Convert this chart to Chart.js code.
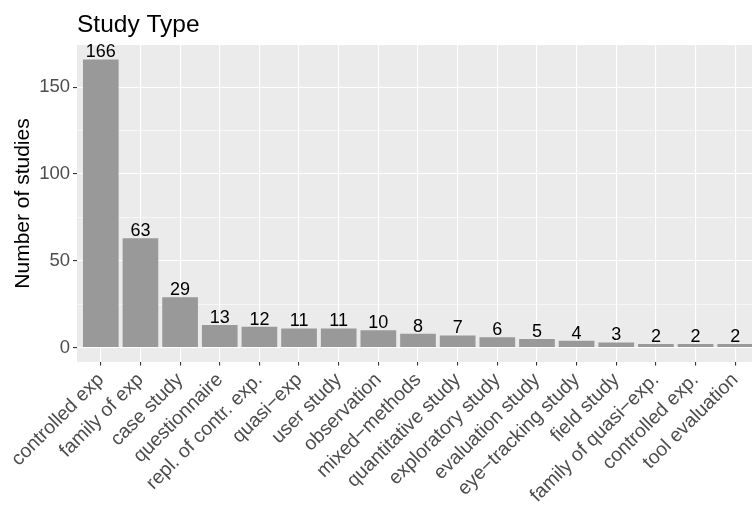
<!DOCTYPE html>
<html>
<head>
<meta charset="utf-8">
<script src="https://cdn.jsdelivr.net/npm/chart.js@4.4.0/dist/chart.umd.min.js"></script>
<style>
  html, body { margin: 0; padding: 0; background: #fff; }
  #wrap { width: 752px; height: 506px; overflow: hidden; }
</style>
</head>
<body>
<div id="wrap"><canvas id="chart" width="759" height="506"></canvas></div>
<script>
// data
const studyTypes = [
  'controlled exp', 'family of exp', 'case study', 'questionnaire',
  'repl. of contr. exp.', 'quasi\u2212exp', 'user study', 'observation',
  'mixed\u2212methods', 'quantitative study', 'exploratory study',
  'evaluation study', 'eye\u2212tracking study', 'field study',
  'family of quasi\u2212exp.', 'controlled exp.', 'tool evaluation'
];
const studyCounts = [166, 63, 29, 13, 12, 11, 11, 10, 8, 7, 6, 5, 4, 3, 2, 2, 2];
const yTicks = [0, 25, 50, 75, 100, 125, 150];
const chartTitle = 'Study Type';
const yTitle = 'Number of studies';

const FONT = '"Liberation Sans", Arial, sans-serif';

// grey panel behind the plot area
const panelBg = {
  id: 'panelBg',
  beforeDraw(chart) {
    const {ctx, chartArea: a} = chart;
    ctx.save();
    ctx.fillStyle = '#EBEBEB';
    ctx.fillRect(a.left, a.top, a.right - a.left, a.bottom - a.top);
    ctx.restore();
  }
};

// counts above the bars
const barLabels = {
  id: 'barLabels',
  afterDatasetsDraw(chart) {
    const ctx = chart.ctx;
    const meta = chart.getDatasetMeta(0);
    ctx.save();
    ctx.font = '18px ' + FONT;
    ctx.fillStyle = '#000';
    ctx.textAlign = 'center';
    ctx.textBaseline = 'alphabetic';
    meta.data.forEach((bar, i) => {
      ctx.fillText(String(studyCounts[i]), bar.x, bar.y - 2);
    });
    ctx.restore();
  }
};

// left aligned title over the panel
const plotTitle = {
  id: 'plotTitle',
  afterDraw(chart) {
    const ctx = chart.ctx;
    ctx.save();
    ctx.font = '24.5px ' + FONT;
    ctx.fillStyle = '#000';
    ctx.textBaseline = 'alphabetic';
    ctx.fillText(chartTitle, chart.chartArea.left, 32);
    ctx.restore();
  }
};

const ctx = document.getElementById('chart').getContext('2d');
const chart = new Chart(ctx, {
  type: 'bar',
  data: {
    datasets: [{
      data: studyCounts.map((v, i) => ({x: i, y: v})),
      backgroundColor: '#999999',
      borderWidth: 0,
      categoryPercentage: 1,
      barPercentage: 0.9
    }]
  },
  options: {
    responsive: false,
    animation: false,
    layout: {padding: {top: 45, left: 0, right: 0, bottom: 0}},
    plugins: {
      legend: {display: false},
      tooltip: {enabled: false},
      title: {display: false}
    },
    scales: {
      x: {
        type: 'linear',
        min: -0.6,
        max: 16.6,
        offset: false,
        afterBuildTicks: (axis) => {
          axis.ticks = studyTypes.map((_, i) => ({value: i}));
        },
        afterFit: (scale) => { scale.height = 144; },
        border: {display: false},
        grid: {
          offset: false,
          color: '#FFFFFF',
          lineWidth: 1.1,
          tickColor: '#333333',
          tickWidth: 1.1,
          tickLength: 3.5
        },
        ticks: {
          autoSkip: false,
          minRotation: 45,
          maxRotation: 45,
          padding: 3,
          color: '#4D4D4D',
          font: {family: FONT, size: 19.5},
          callback: (v) => studyTypes[v]
        }
      },
      y: {
        min: -8.3,
        max: 174.3,
        afterBuildTicks: (axis) => {
          axis.ticks = yTicks.map(v => ({value: v}));
        },
        afterFit: (scale) => { scale.width = 77; },
        border: {display: false},
        grid: {
          color: '#FFFFFF',
          lineWidth: (c) => (c.tick && c.tick.value % 50 === 0) ? 1.1 : 0.55,
          tickColor: (c) => (c.tick && c.tick.value % 50 === 0) ? '#333333' : 'rgba(0,0,0,0)',
          tickWidth: 1.1,
          tickLength: 4
        },
        ticks: {
          padding: 3,
          color: '#4D4D4D',
          font: {family: FONT, size: 18.5},
          callback: (v) => (v % 50 === 0 ? String(v) : '')
        },
        title: {
          display: true,
          text: yTitle,
          color: '#000',
          font: {family: FONT, size: 21},
          padding: {top: 11, bottom: 0}
        }
      }
    }
  },
  plugins: [panelBg, barLabels, plotTitle]
});
</script>
</body>
</html>
